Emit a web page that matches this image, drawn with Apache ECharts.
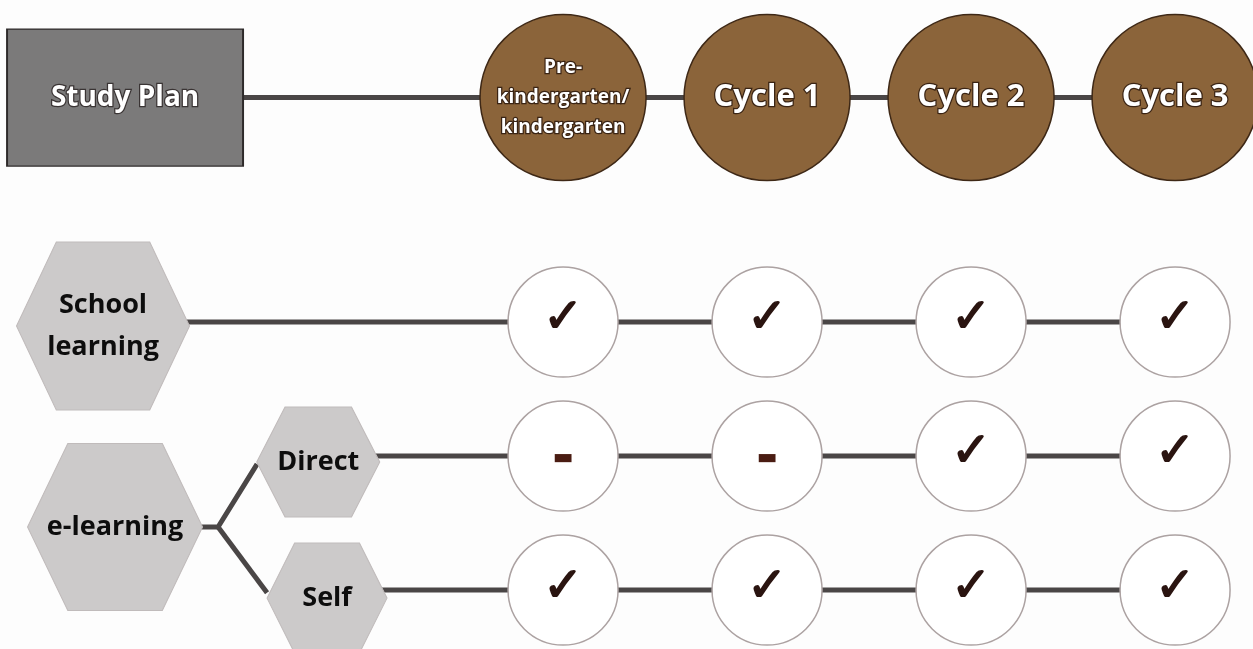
<!DOCTYPE html>
<html><head><meta charset="utf-8">
<script src="https://cdn.jsdelivr.net/npm/echarts@6/dist/echarts.min.js"></script>
<style>html,body{margin:0;padding:0;background:#fdfdfd}#c{width:1253px;height:649px}</style>
</head><body><div id="c"></div><script>
// ---- data ----
const planLabel = 'Study Plan';
const stages = ['Pre-\nkindergarten/\nkindergarten', 'Cycle 1', 'Cycle 2', 'Cycle 3'];
const groupLabels = ['School\nlearning', 'e-learning'];
const eModes = ['Direct', 'Self'];
const schoolLearning = [1, 1, 1, 1];   // 1 = available (✓), 0 = not (–)
const directELearning = [0, 0, 1, 1];
const selfELearning = [1, 1, 1, 1];

// ---- layout (axis units: x = stage index, y = row) ----
const Y_HEAD = -0.675, Y_SCHOOL = 1, Y_DIRECT = 2, Y_SELF = 3, Y_ELEARN = 2.53;
const X_PLAN = -2.147, X_SCHOOL = -2.255, X_ELEARN = -2.196, X_DIRECT = -1.2, X_SELF = -1.157;
const X_BRANCH = -1.691, X_DIRECT_TIP = -1.5, X_SELF_TIP = -1.451;
const HEX = 'path://M0,50 L23,0 L77,0 L100,50 L77,100 L23,100 Z';
const FONT = 'Open Sans';
const LINE = {color: '#4a4646', width: 5};

function connector(points) {
  return {type: 'line', data: points, symbol: 'none', lineStyle: LINE, z: 1, silent: true, animation: false};
}
function checkRow(vals, y) {
  return {
    type: 'scatter', z: 3, animation: false, symbol: 'circle', symbolSize: 110, silent: true,
    itemStyle: {color: '#ffffff', borderColor: '#aca2a2', borderWidth: 1.5, opacity: 1},
    data: vals.map((v, i) => ({
      value: [i, y],
      label: v ? {show: true, formatter: '✓', fontFamily: 'DejaVu Sans', fontWeight: 'bold', fontSize: 48, color: '#2a1410',
                  textBorderColor: '#2a1410', textBorderWidth: 1.5, offset: [0, -2]}
               : {show: true, formatter: '▬', fontFamily: 'DejaVu Sans', fontSize: 22, color: '#4a1c12', offset: [0, 2]}
    }))
  };
}
const last = stages.length - 1;

const option = {
  backgroundColor: '#fdfdfd',
  animation: false,
  grid: {left: 0, right: 0, top: 0, bottom: 0},
  xAxis: {type: 'value', min: -2.76, max: 3.382, show: false},
  yAxis: {type: 'value', min: -1.403, max: 3.44, inverse: true, show: false},
  series: [
    connector([[X_PLAN, Y_HEAD], [last, Y_HEAD]]),
    connector([[X_SCHOOL, Y_SCHOOL], [last, Y_SCHOOL]]),
    connector([[X_DIRECT, Y_DIRECT], [last, Y_DIRECT]]),
    connector([[X_SELF, Y_SELF], [last, Y_SELF]]),
    connector([[X_ELEARN, Y_ELEARN], [X_BRANCH, Y_ELEARN], [X_DIRECT_TIP, Y_DIRECT + 0.06]]),
    connector([[X_BRANCH, Y_ELEARN], [X_SELF_TIP, Y_SELF + 0.02]]),
    { // Study Plan box
      type: 'scatter', z: 3, symbol: 'rect', symbolSize: [236, 137], silent: true,
      itemStyle: {color: '#7b7a7a', borderColor: '#2e2a2a', borderWidth: 1.5, opacity: 1},
      data: [[X_PLAN, Y_HEAD]],
      label: {show: true, formatter: planLabel, color: '#ffffff', fontFamily: FONT, fontWeight: 700, fontSize: 28,
              textBorderColor: '#3a3434', textBorderWidth: 2.5}
    },
    { // stage circles
      type: 'scatter', z: 3, symbol: 'circle', symbolSize: 166, silent: true,
      itemStyle: {color: '#8b643a', borderColor: '#3e2816', borderWidth: 1.5, opacity: 1},
      data: stages.map((s, i) => ({value: [i, Y_HEAD], name: s,
        label: i === 0 ? {fontSize: 19, lineHeight: 30} : {fontSize: 31}})),
      label: {show: true, formatter: p => p.name, color: '#ffffff', fontFamily: FONT, fontWeight: 700,
              textBorderColor: '#3a2414', textBorderWidth: 2.5, align: 'center'}
    },
    { // hexagons
      type: 'scatter', z: 3, symbol: HEX, silent: true,
      itemStyle: {color: '#cccaca', borderColor: '#c0bbbb', borderWidth: 1, opacity: 1},
      data: [
        {value: [X_SCHOOL, Y_SCHOOL + 0.03], name: groupLabels[0], symbolSize: [173, 168]},
        {value: [X_ELEARN, Y_ELEARN], name: groupLabels[1], symbolSize: [175, 167]},
        {value: [X_DIRECT, Y_DIRECT + 0.045], name: eModes[0], symbolSize: [123, 110]},
        {value: [X_SELF, Y_SELF + 0.06], name: eModes[1], symbolSize: [120, 110]}
      ],
      label: {show: true, formatter: p => p.name, color: '#0d0d0d', fontFamily: FONT, fontWeight: 700,
              fontSize: 27, lineHeight: 42, align: 'center'}
    },
    checkRow(schoolLearning, Y_SCHOOL),
    checkRow(directELearning, Y_DIRECT),
    checkRow(selfELearning, Y_SELF)
  ]
};
echarts.init(document.getElementById('c')).setOption(option);
</script></body></html>
